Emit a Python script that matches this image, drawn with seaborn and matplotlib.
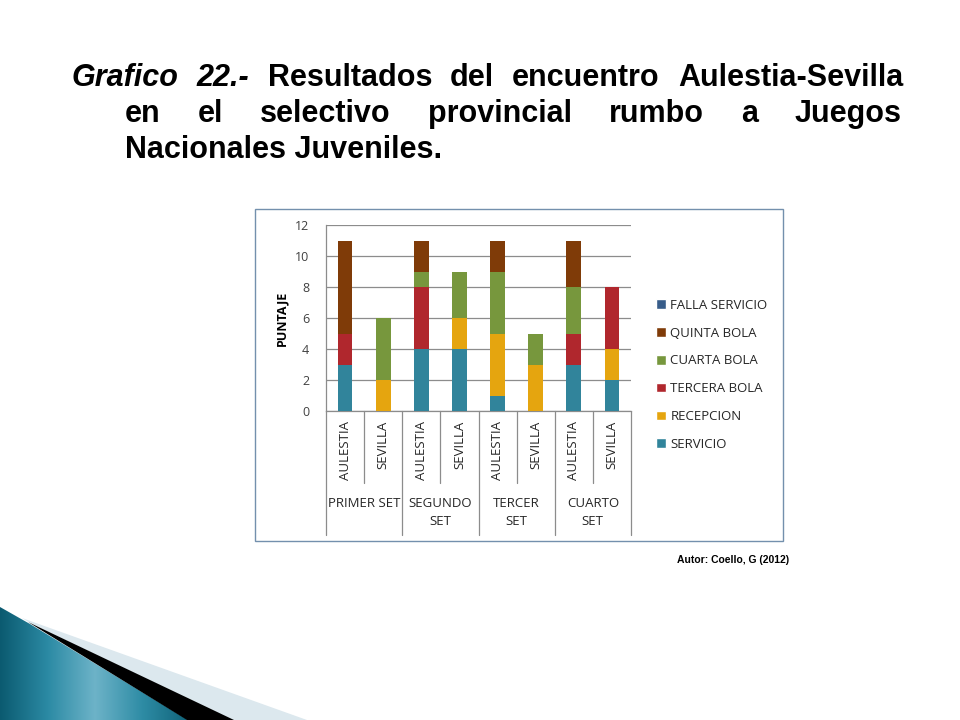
import numpy as np
import pandas as pd
import matplotlib
matplotlib.use("Agg")
import matplotlib.pyplot as plt
import seaborn as sns
from matplotlib.patches import Patch, Polygon, Rectangle
from matplotlib.transforms import blended_transform_factory

sets = ["PRIMER SET", "SEGUNDO\nSET", "TERCER\nSET", "CUARTO\nSET"]
equipos = ["AULESTIA", "SEVILLA"]

servicio = [3, 0, 4, 4, 1, 0, 3, 2]
recepcion = [0, 2, 0, 2, 4, 3, 0, 2]
tercera = [2, 0, 4, 0, 0, 0, 2, 4]
cuarta = [0, 4, 1, 3, 4, 2, 3, 0]
quinta = [6, 0, 2, 0, 2, 0, 3, 0]
falla = [0, 0, 0, 0, 0, 0, 0, 0]

series = ["SERVICIO", "RECEPCION", "TERCERA BOLA", "CUARTA BOLA", "QUINTA BOLA", "FALLA SERVICIO"]
colores = ["#31849B", "#E5A50F", "#B0272D", "#77973D", "#7F3B08", "#385D8A"]
valores = [servicio, recepcion, tercera, cuarta, quinta, falla]

barras = [f"{s}|{e}" for s in sets for e in equipos]
df = pd.DataFrame({"barra": barras})
acum = np.zeros(len(barras))
for nombre, v in zip(series, valores):
    acum = acum + np.array(v)
    df[nombre] = acum.copy()

sns.set_style("white")
plt.rcParams["font.family"] = ["Open Sans", "DejaVu Sans"]

fig = plt.figure(figsize=(9.6, 7.2), dpi=100)

# fondo en coordenadas de pixel
bg = fig.add_axes([0, 0, 1, 1], zorder=0)
bg.set_xlim(0, 960)
bg.set_ylim(720, 0)
bg.axis("off")

# adorno inferior
teal = Polygon([(0, 607), (30, 624), (188, 720), (0, 720)], closed=True,
               facecolor="none", edgecolor="none")
bg.add_patch(teal)
grad = np.linspace(0, 1, 256)[None, :]
cmap_t = matplotlib.colors.LinearSegmentedColormap.from_list(
    "t", ["#0B5A70", "#2B8AA4", "#6DB3C8", "#2E8CA5", "#0F6278"])
im = bg.imshow(grad, extent=(0, 190, 720, 604), cmap=cmap_t, aspect="auto", zorder=1)
im.set_clip_path(teal)
bg.add_patch(Polygon([(22, 618), (307, 720), (232, 720), (30, 623)], closed=True,
                     facecolor="#DCE8EE", edgecolor="none", zorder=1))
bg.add_patch(Polygon([(28, 622), (234, 720), (187, 720)], closed=True,
                     facecolor="black", edgecolor="none", zorder=2))

# marco del grafico
bg.add_patch(Rectangle((255, 209), 528, 332, facecolor="white",
                       edgecolor="#7390AD", linewidth=1, zorder=1))

ax = fig.add_axes([326 / 960, 1 - 411 / 720, 305 / 960, 186 / 720], zorder=2)
ax.set_facecolor("none")

orden = series[::-1]
for nombre in orden:
    c = colores[series.index(nombre)]
    sns.barplot(data=df, x="barra", y=nombre, order=barras, color=c,
                width=0.39, saturation=1, linewidth=0, ax=ax, zorder=3)

ax.set_ylim(0, 12)
ax.set_xlim(-0.5, 7.5)
ax.set_yticks(range(0, 13, 2))
ax.yaxis.grid(True, color="#8C8C8C", linewidth=0.9, zorder=0)
ax.set_axisbelow(True)
for s in ["top", "right"]:
    ax.spines[s].set_visible(False)
for s in ["left", "bottom"]:
    ax.spines[s].set_color("#8C8C8C")
    ax.spines[s].set_linewidth(0.9)
ax.tick_params(axis="y", length=4, color="#8C8C8C", labelsize=9, labelcolor="#404040", pad=8)
ax.tick_params(axis="x", length=0, labelsize=9.5, labelcolor="#262626", pad=7)
ax.set_xticks(range(len(barras)))
ax.set_xticklabels([b.split("|")[1] for b in barras], rotation=90)
ax.set_xlabel("")
ax.set_ylabel("PUNTAJE", fontsize=9, fontweight="bold", color="black")
ax.yaxis.set_label_coords(-0.125, 0.5)

trans = blended_transform_factory(ax.transData, ax.transAxes)
for i in range(len(barras) + 1):
    x = i - 0.5
    bajo = -0.667 if i % 2 == 0 else -0.387
    ax.plot([x, x], [0, bajo], color="#8C8C8C", linewidth=0.9,
            transform=trans, clip_on=False)
for k, s in enumerate(sets):
    ax.text(2 * k + 0.5, -0.465, s, transform=trans, ha="center", va="top",
            fontsize=9.5, color="#262626", linespacing=1.45)

handles = [Patch(facecolor=colores[series.index(n)], label=n) for n in orden]
fig.legend(handles=handles, loc="upper left", bbox_to_anchor=(644 / 960, 1 - 287 / 720),
           frameon=False, fontsize=9.5, handlelength=0.75, handleheight=0.75,
           handletextpad=0.35, labelspacing=1.12)

# titulo justificado
tit = "Liberation Sans"
fs = 22
fig.canvas.draw()
r = fig.canvas.get_renderer()

def justificar(palabras, x0, x1, yb, estilos):
    ts = [bg.text(0, yb, p, fontsize=fs, fontweight="bold", fontstyle=e, color="black",
                  family=tit, va="baseline", ha="left", zorder=5)
          for p, e in zip(palabras, estilos)]
    anchos = [t.get_window_extent(r).width for t in ts]
    hueco = (x1 - x0 - sum(anchos)) / (len(ts) - 1)
    x = x0
    for t, w in zip(ts, anchos):
        t.set_x(x)
        x += w + hueco

l1 = ["Grafico", "22.-", "Resultados", "del", "encuentro", "Aulestia-Sevilla"]
justificar(l1, 72, 903, 86, ["italic", "italic", "normal", "normal", "normal", "normal"])
l2 = ["en", "el", "selectivo", "provincial", "rumbo", "a", "Juegos"]
justificar(l2, 125, 902, 122, ["normal"] * len(l2))
bg.text(125, 158, "Nacionales Juveniles.", fontsize=fs, fontweight="bold", color="black",
        family=tit, va="baseline", ha="left", zorder=5)

bg.text(789, 560, "Autor: Coello, G (2012)", fontsize=7.5, fontweight="bold", color="black",
        family=tit, ha="right", va="center", zorder=5)

fig.savefig("out.png", dpi=100)
